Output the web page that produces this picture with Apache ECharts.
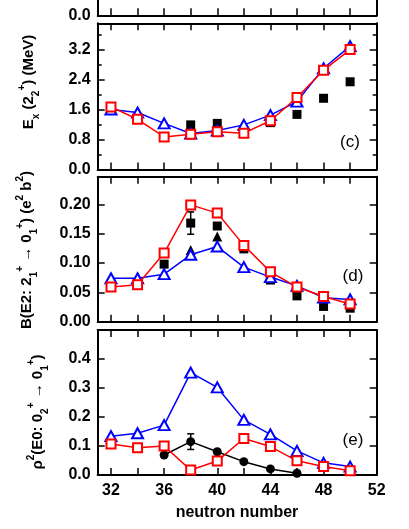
<!DOCTYPE html>
<html><head><meta charset="utf-8">
<script src="https://cdn.jsdelivr.net/npm/echarts@6/dist/echarts.min.js"></script>
<style>html,body{margin:0;padding:0;background:#fff}#c{width:409px;height:529px}</style>
</head><body><div id="c"></div>
<script>
// ---------- data ----------
const neutron = [32,34,36,38,40,42,44,46,48,50];
const xTickValues = [32,34,36,38,40,42,44,46,48,50];
const xLabelValues = [32,36,40,44,48,52];
// panel (c): Ex(2_2+) in MeV
const exBlue = [1.60,1.52,1.23,0.96,1.04,1.19,1.45,1.81,2.70,3.29];
const exRed  = [1.67,1.34,0.87,0.94,1.01,0.97,1.30,1.92,2.65,3.20];
const exExpN = [38,40,44,46,48,50];
const exExp  = [1.19,1.23,1.25,1.47,1.90,2.34];
const cTicks = [0,0.8,1.6,2.4,3.2];
const cMinor = [0.4,1.2,2.0,2.8,3.6];
// panel (d): B(E2) in e^2 b^2
const be2Blue = [0.074,0.074,0.081,0.114,0.128,0.093,0.076,0.061,0.041,0.038];
const be2Red  = [0.059,0.063,0.117,0.199,0.185,0.130,0.085,0.059,0.043,0.030];
const be2SqN  = [36,38,40,42,44,46,48,50];
const be2Sq   = [0.098,0.168,0.163,0.124,0.071,0.044,0.026,0.023];
const be2SqErr= [0,0.019,0,0,0,0,0,0];
const be2TriN = [38,40];
const be2Tri  = [0.122,0.145];
const dTicks = [0,0.05,0.10,0.15,0.20];
// panel (e): rho^2(E0)
const e0Blue = [0.134,0.144,0.172,0.353,0.302,0.190,0.140,0.083,0.042,0.029];
const e0Red  = [0.107,0.094,0.100,0.017,0.048,0.126,0.098,0.049,0.029,0.015];
const e0ExpN = [36,38,40,42,44,46];
const e0Exp  = [0.069,0.115,0.080,0.046,0.021,0.006];
const e0ExpErr = [0,0.027,0,0,0,0];
const eTicks = [0,0.1,0.2,0.3,0.4];

// ---------- helpers ----------
const FONT = 'Liberation Sans';
const L = 97.7, W = 279;
const grids = [
  {left:L, width:W, top:0, height:15.3},
  {left:L, width:W, top:23.3, height:146.2},
  {left:L, width:W, top:176.7, height:145},
  {left:L, width:W, top:330, height:145}
];
const lineAx = {color:'#000', width:2};
function xAx(gi, pos, showLabel, showLine) {
  return {type:'value', gridIndex:gi, position:pos, min:31, max:52,
    axisLine:{show:showLine!==false, onZero:false, lineStyle:lineAx},
    axisTick:{show:true, inside:true, length:7, customValues:xTickValues, lineStyle:{color:'#000', width:1.5}},
    axisLabel:{show:showLabel, customValues:xLabelValues, margin:8, color:'#000', fontFamily:FONT, fontWeight:'bold', fontSize:16},
    splitLine:{show:false}};
}
function yAx(gi, pos, min, max, ticks, labels, dec, len, showLine) {
  return {type:'value', gridIndex:gi, position:pos, min:min, max:max,
    axisLine:{show:showLine!==false, onZero:false, lineStyle:lineAx},
    axisTick:{show:ticks.length>0, inside:true, length:len, customValues:ticks.length?ticks:[min], lineStyle:{color:'#000', width:1.5}},
    axisLabel:{show:labels.length>0, customValues:labels.length?labels:[min], margin:7, color:'#000', fontFamily:FONT, fontWeight:'bold', fontSize:16,
      formatter:v=>Number(v).toFixed(dec)},
    splitLine:{show:false}};
}
const xAxis = [
  xAx(0,'bottom',false),          // 0
  xAx(1,'bottom',false), xAx(1,'top',false), // 1,2
  xAx(2,'bottom',false), xAx(2,'top',false), // 3,4
  xAx(3,'bottom',true),  xAx(3,'top',false)  // 5,6
];
const yAxis = [
  yAx(0,'left',0,0.1,[],[0],1,7),        // 0
  yAx(0,'right',0,0.1,[],[],1,7),        // 1
  yAx(1,'left',0,3.9,cTicks,cTicks,1,7), // 2
  yAx(1,'right',0,3.9,cTicks,[],1,7),    // 3
  yAx(1,'left',0,3.9,cMinor,[],1,4,false),  // 4
  yAx(1,'right',0,3.9,cMinor,[],1,4,false), // 5
  yAx(2,'left',0,0.247,dTicks,dTicks,2,7),  // 6
  yAx(2,'right',0,0.247,dTicks,[],2,7),     // 7
  yAx(3,'left',0,0.5,eTicks,eTicks,1,7),    // 8
  yAx(3,'right',0,0.5,eTicks,[],1,7)        // 9
];
function zip(xs, ys){ return xs.map((x,i)=>[x, ys[i]]); }
function lineSeries(xi, yi, ys, kind) {
  const blue = kind==='blue';
  return {type:'line', xAxisIndex:xi, yAxisIndex:yi, data:zip(neutron, ys),
    symbol: blue?'triangle':'rect', symbolSize: blue?[11,10]:9,
    lineStyle:{color: blue?'#0000ff':'#ff0000', width:1.5},
    itemStyle:{color:'#fff', borderColor: blue?'#0000ff':'#ff0000', borderWidth:2, opacity:1},
    z: blue?3:4, silent:true, animation:false};
}
function scatter(xi, yi, xs, ys, sym, size) {
  return {type:'scatter', xAxisIndex:xi, yAxisIndex:yi, data:zip(xs, ys), symbol:sym, symbolSize:size,
    itemStyle:{color:'#000', opacity:1}, z:2, silent:true, animation:false};
}
function errBars(xi, yi, xs, ys, es) {
  const d = xs.map((x,i)=>[x, ys[i], es[i]]).filter(r=>r[2]>0);
  return {type:'custom', xAxisIndex:xi, yAxisIndex:yi, data:d, encode:{x:0, y:1}, z:2, silent:true, animation:false,
    renderItem:(p, api)=>{
      const x=api.value(0), y=api.value(1), e=api.value(2);
      const a=api.coord([x,y+e]), b=api.coord([x,y-e]); const w=3.5;
      const st={stroke:'#000', lineWidth:1.5};
      return {type:'group', children:[
        {type:'line', shape:{x1:a[0],y1:a[1],x2:b[0],y2:b[1]}, style:st},
        {type:'line', shape:{x1:a[0]-w,y1:a[1],x2:a[0]+w,y2:a[1]}, style:st},
        {type:'line', shape:{x1:b[0]-w,y1:b[1],x2:b[0]+w,y2:b[1]}, style:st}
      ]};
    }};
}
const series = [
  // (c)
  scatter(1,2,exExpN,exExp,'rect',9),
  lineSeries(1,2,exBlue,'blue'), lineSeries(1,2,exRed,'red'),
  // (d)
  scatter(3,6,be2SqN,be2Sq,'rect',9),
  scatter(3,6,be2TriN,be2Tri,'triangle',[10,10]),
  errBars(3,6,be2SqN,be2Sq,be2SqErr),
  lineSeries(3,6,be2Blue,'blue'), lineSeries(3,6,be2Red,'red'),
  // (e)
  {type:'line', xAxisIndex:5, yAxisIndex:8, data:zip(e0ExpN,e0Exp), symbol:'circle', symbolSize:9,
    lineStyle:{color:'#000', width:1.5}, itemStyle:{color:'#000', opacity:1}, z:2, silent:true, animation:false},
  errBars(5,8,e0ExpN,e0Exp,e0ExpErr),
  lineSeries(5,8,e0Blue,'blue'), lineSeries(5,8,e0Red,'red')
];
const rich = {
  b:{fontFamily:FONT, fontWeight:'bold', fontSize:15, lineHeight:24, color:'#000'},
  sup:{fontFamily:FONT, fontWeight:'bold', fontSize:10, lineHeight:11, verticalAlign:'top', color:'#000'},
  sub:{fontFamily:FONT, fontWeight:'bold', fontSize:10, lineHeight:11, verticalAlign:'bottom', color:'#000'}
};
function vtitle(x, y, text) {
  return {type:'text', x:x, y:y, rotation:Math.PI/2, silent:true,
    style:{text:text, rich:rich, align:'center', verticalAlign:'middle', fontFamily:FONT, fontWeight:'bold', fontSize:15, fill:'#000'}};
}
function plabel(x, y, t) {
  return {type:'text', x:x, y:y, silent:true, style:{text:t, align:'center', verticalAlign:'middle', fontFamily:FONT, fontSize:17, fill:'#000'}};
}
const graphic = [
  vtitle(29, 82, '{b|E}{sub|x}{b| (2}{sub|2}{sup|+}{b|) (MeV)}'),
  vtitle(27, 250, '{b|B(E2: 2}{sub|1}{sup|+}{b| \u2192 0}{sub|1}{sup|+}{b|) (e}{sup|2}{b| b}{sup|2}{b|)}'),
  vtitle(38, 412, '{b|\u03c1}{sup|2}{b|(E0: 0}{sub|2}{sup|+}{b| \u2192 0}{sub|1}{sup|+}{b|)}'),
  plabel(350, 142, '(c)'), plabel(353, 276, '(d)'), plabel(353, 440, '(e)'),
  {type:'text', x:237, y:513, silent:true, style:{text:'neutron number', align:'center', verticalAlign:'middle', fontFamily:FONT, fontWeight:'bold', fontSize:16, fill:'#000'}}
];
const chart = echarts.init(document.getElementById('c'), null, {renderer:'canvas'});
chart.setOption({animation:false, backgroundColor:'#fff', grid:grids, xAxis:xAxis, yAxis:yAxis, series:series, graphic:graphic});
</script></body></html>
